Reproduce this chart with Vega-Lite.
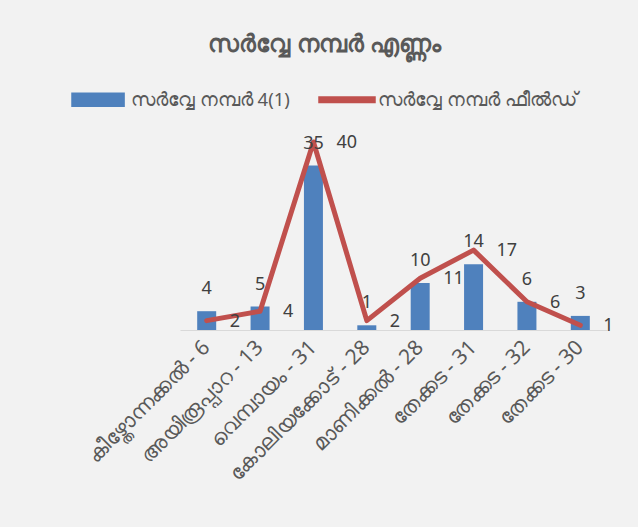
{
  "$schema": "https://vega.github.io/schema/vega-lite/v6.json",
  "width": 427,
  "height": 211.5,
  "autosize": {"type": "none"},
  "padding": {"left": 180, "top": 118.5, "right": 31, "bottom": 197},
  "background": "#f2f2f2",
  "title": {
    "text": "സർവ്വേ നമ്പർ എണ്ണം",
    "anchor": "middle",
    "dx": -69,
    "offset": -5,
    "baseline": "alphabetic",
    "fontSize": 24,
    "fontWeight": "bold",
    "color": "#595959"
  },
  "data": {
    "values": [
      {"cat": "കീഴ്തോന്നക്കൽ - 6", "series": "സർവ്വേ നമ്പർ 4(1)", "value": 4},
      {"cat": "അയിരൂപ്പാറ - 13", "series": "സർവ്വേ നമ്പർ 4(1)", "value": 5},
      {"cat": "വെമ്പായം - 31", "series": "സർവ്വേ നമ്പർ 4(1)", "value": 35},
      {"cat": "കോലിയക്കോട് - 28", "series": "സർവ്വേ നമ്പർ 4(1)", "value": 1},
      {"cat": "മാണിക്കൽ - 28", "series": "സർവ്വേ നമ്പർ 4(1)", "value": 10},
      {"cat": "തേക്കട - 31", "series": "സർവ്വേ നമ്പർ 4(1)", "value": 14},
      {"cat": "തേക്കട - 32", "series": "സർവ്വേ നമ്പർ 4(1)", "value": 6},
      {"cat": "തേക്കട - 30", "series": "സർവ്വേ നമ്പർ 4(1)", "value": 3},
      {"cat": "കീഴ്തോന്നക്കൽ - 6", "series": "സർവ്വേ നമ്പർ ഫീൽഡ്", "value": 2},
      {"cat": "അയിരൂപ്പാറ - 13", "series": "സർവ്വേ നമ്പർ ഫീൽഡ്", "value": 4},
      {"cat": "വെമ്പായം - 31", "series": "സർവ്വേ നമ്പർ ഫീൽഡ്", "value": 40},
      {"cat": "കോലിയക്കോട് - 28", "series": "സർവ്വേ നമ്പർ ഫീൽഡ്", "value": 2},
      {"cat": "മാണിക്കൽ - 28", "series": "സർവ്വേ നമ്പർ ഫീൽഡ്", "value": 11},
      {"cat": "തേക്കട - 31", "series": "സർവ്വേ നമ്പർ ഫീൽഡ്", "value": 17},
      {"cat": "തേക്കട - 32", "series": "സർവ്വേ നമ്പർ ഫീൽഡ്", "value": 6},
      {"cat": "തേക്കട - 30", "series": "സർവ്വേ നമ്പർ ഫീൽഡ്", "value": 1}
    ]
  },
  "encoding": {
    "x": {
      "field": "cat",
      "type": "nominal",
      "sort": null,
      "title": null,
      "scale": {"paddingInner": 0, "paddingOuter": 0},
      "axis": {
        "labelAngle": -45,
        "labelAlign": "right",
        "labelBaseline": "middle",
        "labelPadding": 14,
        "labelFontSize": 21,
        "labelColor": "#595959",
        "ticks": false,
        "domainColor": "#d9d9d9",
        "domainWidth": 1,
        "labelLimit": 0
      }
    },
    "y": {
      "field": "value",
      "type": "quantitative",
      "scale": {"domain": [0, 45], "nice": false},
      "axis": null
    }
  },
  "layer": [
    {
      "transform": [{"filter": "datum.series === 'സർവ്വേ നമ്പർ 4(1)'"}],
      "mark": {"type": "bar", "size": 19},
      "encoding": {
        "color": {
          "field": "series",
          "type": "nominal",
          "scale": {
            "domain": ["സർവ്വേ നമ്പർ 4(1)", "സർവ്വേ നമ്പർ ഫീൽഡ്"],
            "range": ["#4f81bd", "#c0504d"]
          },
          "legend": {
            "title": null,
            "orient": "none",
            "direction": "horizontal",
            "legendX": -109,
            "legendY": -48,
            "labelFontSize": 18.5,
            "labelColor": "#595959",
            "labelOffset": 2,
            "columnPadding": 26,
            "labelLimit": 0,
            "symbolSize": 3136,
            "encode": {
              "symbols": {
                "update": {
                  "shape": {"signal": "datum.value === 'സർവ്വേ നമ്പർ 4(1)' ? 'M-1,-0.23H0.86V0.23H-1Z' : 'M-1,-0.1H1V0.1H-1Z'"},
                  "fill": {"scale": "color", "field": "value"},
                  "stroke": {"value": "transparent"},
                  "opacity": {"value": 1}
                }
              }
            }
          }
        }
      }
    },
    {
      "transform": [{"filter": "datum.series === 'സർവ്വേ നമ്പർ ഫീൽഡ്'"}],
      "mark": {"type": "line", "strokeWidth": 5, "strokeCap": "round", "strokeJoin": "round"},
      "encoding": {
        "color": {"field": "series", "type": "nominal"}
      }
    },
    {
      "transform": [{"filter": "datum.series === 'സർവ്വേ നമ്പർ 4(1)'"}],
      "mark": {"type": "text", "dy": -17, "baseline": "alphabetic", "align": "center", "fontSize": 18, "color": "#404040"},
      "encoding": {"text": {"field": "value", "type": "quantitative"}}
    },
    {
      "transform": [{"filter": "datum.series === 'സർവ്വേ നമ്പർ ഫീൽഡ്'"}],
      "mark": {"type": "text", "dx": 23, "dy": 1, "baseline": "middle", "align": "left", "fontSize": 18, "color": "#404040"},
      "encoding": {"text": {"field": "value", "type": "quantitative"}}
    }
  ],
  "config": {
    "view": {"stroke": null},
    "font": "Noto Sans"
  }
}
